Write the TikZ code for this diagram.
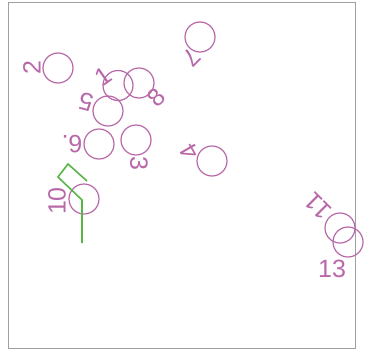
\documentclass[tikz,border=0pt]{standalone}
\usepackage{fontspec}
\setmainfont{Liberation Sans}
\definecolor{pur}{RGB}{184,104,168}
\definecolor{grn}{RGB}{88,182,72}
\definecolor{frm}{RGB}{160,160,160}
\begin{document}
\begin{tikzpicture}[x=1pt,y=-1pt,
  ring/.style={circle,draw=pur,line width=1.2pt,minimum size=30pt,inner sep=0pt},
  lbl/.style={text=pur,font=\fontsize{25}{25}\selectfont,inner sep=0pt}]
\useasboundingbox (0,0) rectangle (366,351);
\draw[frm,line width=0.9pt] (8,2) rectangle (355.5,348);
% circles
\node[ring] (c2) at (58,68) {};
\node[ring] (c1) at (118,85.5) {};
\node[ring] (c8) at (139,83) {};
\node[ring] (c5) at (108,111) {};
\node[ring] (c9) at (99,144) {};
\node[ring] (c3) at (136,140) {};
\node[ring] (c7) at (200,37) {};
\node[ring] (c4) at (212,161) {};
\node[ring] (c10) at (84,199) {};
\node[ring] (c11) at (340,228) {};
\node[ring] (c13) at (348,242) {};
% labels
\node[lbl,rotate=90] (l2) at (32,68) {2};
\node[lbl,rotate=35] (l1) at (103,76) {1};
\node[lbl,rotate=45] (l8) at (156,97) {8};
\node[lbl,rotate=165] (l5) at (86,102) {5};
\node[lbl,rotate=180] (l9) at (72,144) {6.};
\node[lbl,rotate=-90] (l3) at (139,163) {3};
\node[lbl,rotate=-135] (l7) at (192,57) {7};
\node[lbl,rotate=120] (l4) at (190,152) {4};
\node[lbl,rotate=90] (l10) at (57,201) {10};
\node[lbl,rotate=135] (l11) at (318,206) {11};
\node[lbl] (l13) at (332,269) {13};
% green path
\coordinate (g1) at (82,243);
\coordinate (g2) at (82,200);
\coordinate (g3) at (58,177);
\coordinate (g4) at (68,164);
\coordinate (g5) at (87,181);
\draw[grn,line width=1.6pt] (g1) -- (g2) -- (g3) -- (g4) -- (g5);
\end{tikzpicture}
\end{document}
